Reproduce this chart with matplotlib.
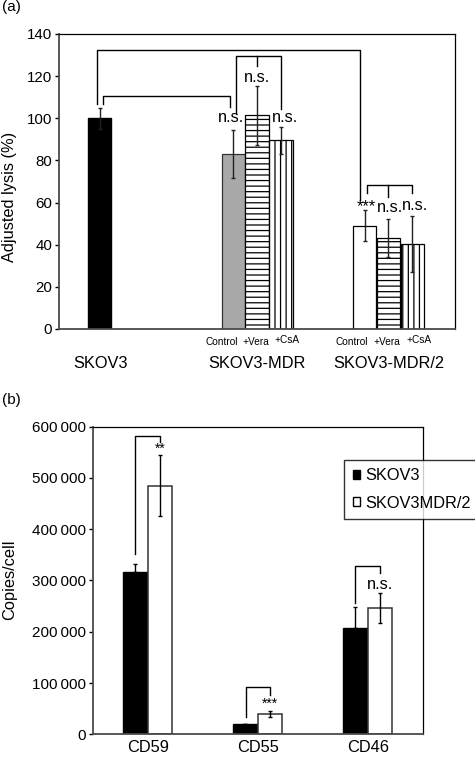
import numpy as np
import matplotlib
matplotlib.use('Agg')
import matplotlib.pyplot as plt
from matplotlib.patches import Patch

plt.rcParams['font.family'] = ['Liberation Sans', 'DejaVu Sans']
plt.rcParams['hatch.linewidth'] = 0.9

# ---- panel (a) data ----
lysis_groups = ['SKOV3', 'SKOV3-MDR', 'SKOV3-MDR/2']
treatments = ['Control', '+Vera', '+CsA']
skov3_lysis = 100.0
skov3_err = 5.0
mdr_lysis = [83.0, 101.5, 89.5]
mdr_err = [11.5, 14.0, 6.3]
mdr2_lysis = [49.0, 43.3, 40.3]
mdr2_err = [7.3, 9.0, 13.5]

# ---- panel (b) data ----
markers = ['CD59', 'CD55', 'CD46']
skov3_copies = [317000, 20000, 208000]
skov3_copies_err = [16000, 0, 41000]
mdr2_copies = [485000, 40000, 246000]
mdr2_copies_err = [60000, 6000, 29000]
b_signif = ['**', '***', 'n.s.']

fig = plt.figure(figsize=(4.75, 7.58), dpi=100)

def style_spines(ax):
    for s in ['top', 'right']:
        ax.spines[s].set_color('black')
        ax.spines[s].set_linewidth(0.9)
    for s in ['left', 'bottom']:
        ax.spines[s].set_color('#4a4a4a')
        ax.spines[s].set_linewidth(1.3)

def bracket(ax, x1, x2, y, y1, y2, **kw):
    ax.plot([x1, x1, x2, x2], [y1, y, y, y2], color='black', lw=1.0,
            clip_on=False, **kw)

# ================= (a) =================
ax = fig.add_axes([0.1242, 0.5660, 0.8337, 0.3892])
w = 0.97
ebar = dict(ecolor='#222222', elinewidth=1.0, capsize=1.6, capthick=1.0)
ax.bar(1.7, skov3_lysis, w, color='black', edgecolor='black',
       yerr=skov3_err, error_kw=ebar)
mdr_x = [7.27, 8.25, 9.25]
mdr2_x = [12.73, 13.72, 14.72]
mdr_fill = ['#a8a8a8', 'white', 'white']
mdr2_fill = ['white', 'white', 'white']
hatches = ['', '---', '|||']
for i in range(3):
    ax.bar(mdr_x[i], mdr_lysis[i], w, color=mdr_fill[i],
           edgecolor='#333333' if i == 0 else 'black', hatch=hatches[i],
           linewidth=0.9, yerr=mdr_err[i], error_kw=ebar)
    ax.bar(mdr2_x[i], mdr2_lysis[i], w, color=mdr2_fill[i],
           edgecolor='black', hatch=hatches[i], linewidth=0.9,
           yerr=mdr2_err[i], error_kw=ebar)

ax.set_xlim(0, 16.5)
ax.set_ylim(0, 140)
ax.set_yticks(np.arange(0, 141, 20))
ax.set_xticks([])
ax.tick_params(axis='y', direction='out', length=3, width=1, pad=2,
               labelsize=10.8)
style_spines(ax)

# brackets in (a)
bracket(ax, 1.57, 12.54, 132.4, 106.8, 61.2)
bracket(ax, 1.82, 7.125, 110.7, 106.8, 105.3)
bracket(ax, 7.39, 9.24, 129.5, 102.5, 104.4)
ax.plot([8.24, 8.24], [129.5, 124.8], color='black', lw=1.0)
bracket(ax, 12.83, 14.71, 68.3, 64.7, 64.7)
ax.plot([13.72, 13.72], [68.3, 62.8], color='black', lw=1.0)

ns_kw = dict(ha='center', va='baseline', fontsize=11.8)
ax.text(7.17, 98.4, 'n.s.', **ns_kw)
ax.text(8.25, 117.3, 'n.s.', **ns_kw)
ax.text(9.42, 98.4, 'n.s.', **ns_kw)
ax.text(12.82, 55.7, '***', **ns_kw)
ax.text(13.79, 55.7, 'n.s.', **ns_kw)
ax.text(14.83, 56.3, 'n.s.', **ns_kw)

# treatment and group labels under (a)
small_x = [[6.78, 8.19, 9.5], [12.2, 13.65, 15.0]]
small_dy = [0, 0, 0.8]
for xs in small_x:
    for j, t in enumerate(treatments):
        ax.text(xs[j], -6.0 + small_dy[j], t, ha='center', va='center',
                fontsize=7.3, clip_on=False)
for gx, g in zip([1.71, 8.26, 13.74], lysis_groups):
    ax.text(gx, -16.3, g, ha='center', va='center', fontsize=11.8,
            clip_on=False)

fig.text(10 / 475, 1 - 197 / 758, 'Adjusted lysis (%)', rotation=90,
         ha='center', va='center', fontsize=11.8)
fig.text(2 / 475, 1 - 7 / 758, '(a)', ha='left', va='center', fontsize=11)

# ================= (b) =================
bx = fig.add_axes([0.1952, 0.03127, 0.6947, 0.4058])
x = np.arange(len(markers))
bw = 0.225
ebar_b = dict(ecolor='black', elinewidth=1.0, capsize=1.6, capthick=1.0)
bx.bar(x - bw / 2, skov3_copies, bw, color='black', edgecolor='black',
       yerr=[[0] * 3, skov3_copies_err], error_kw=ebar_b)
bx.bar(x + bw / 2, mdr2_copies, bw, color='white', edgecolor='#333333',
       linewidth=1.1, yerr=mdr2_copies_err, error_kw=ebar_b)

bx.set_xlim(-0.5, 2.5)
bx.set_ylim(0, 600000)
yt = np.arange(0, 600001, 100000)
bx.set_yticks(yt)
bx.set_yticklabels(['0'] + [f'{v // 1000}\u2009000' for v in yt[1:]])
bx.set_xticks(x)
bx.set_xticklabels(markers)
bx.tick_params(axis='y', direction='out', length=3, width=1, pad=2,
               labelsize=11)
bx.tick_params(axis='x', length=0, pad=4, labelsize=11.8)
style_spines(bx)

# brackets in (b)
bracket(bx, -0.113, 0.113, 582600, 351000, 571000)
bracket(bx, 0.889, 1.113, 91700, 33000, 76700)
bracket(bx, 1.88, 2.11, 328300, 256800, 315400)
bx.text(0.11, 549000, b_signif[0], ha='center', va='baseline', fontsize=10)
bx.text(1.11, 52000, b_signif[1], ha='center', va='baseline', fontsize=10)
bx.text(2.11, 284000, b_signif[2], ha='center', va='baseline', fontsize=11.8)

handles = [Patch(facecolor='black', edgecolor='black', label='SKOV3'),
           Patch(facecolor='white', edgecolor='black', label='SKOV3MDR/2')]
leg = fig.legend(handles=handles, loc='upper left',
                 bbox_to_anchor=(0.725, 0.393), fontsize=11.8,
                 frameon=True, fancybox=False, handlelength=0.45,
                 handleheight=0.45, handletextpad=0.35, labelspacing=0.75,
                 borderpad=0.5, borderaxespad=0)
leg.get_frame().set_edgecolor('black')
leg.get_frame().set_linewidth(1.0)

fig.text(10 / 475, 1 - 580 / 758, 'Copies/cell', rotation=90,
         ha='center', va='center', fontsize=11.8)
fig.text(2 / 475, 1 - 400 / 758, '(b)', ha='left', va='center', fontsize=11)

fig.savefig('out.png', dpi=100)
